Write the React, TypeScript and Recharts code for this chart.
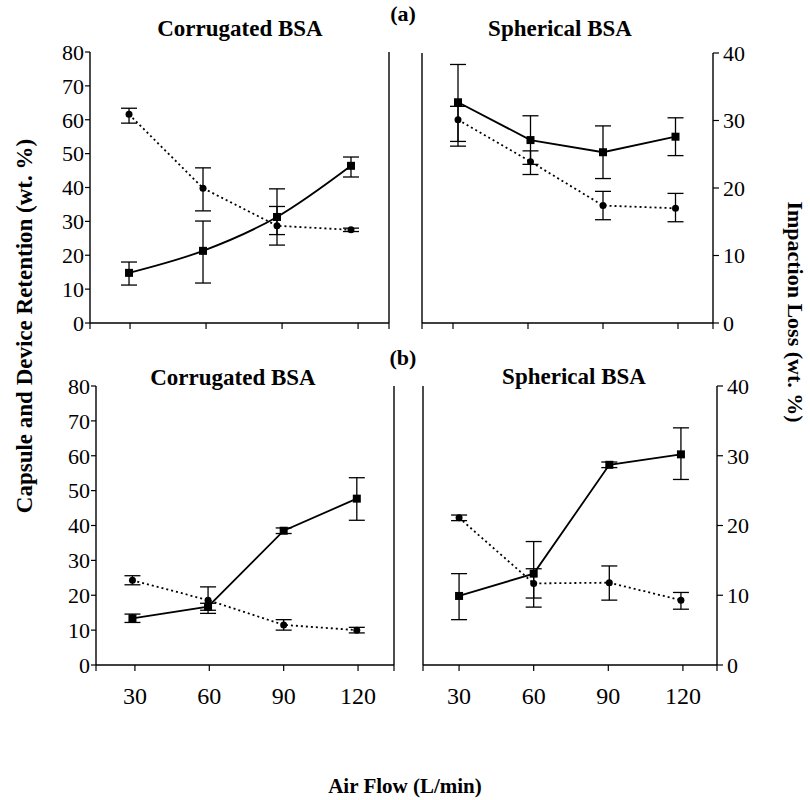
import React from "react";
import { LineChart, Line, XAxis, YAxis, ErrorBar } from "recharts";

// air flow (L/min) tick labels
const FLOW_TICKS = [30, 60, 90, 120];
const RET_TICKS = [0, 10, 20, 30, 40, 50, 60, 70, 80];
const LOSS_TICKS = [0, 10, 20, 30, 40];

// (a) corrugated BSA - read on the 0-80 scale
const A_CORR_X = [29.6, 58.8, 88, 117.2];
const A_CORR_SQ = [14.8, 21.3, 31.3, 46.4];
const A_CORR_SQ_ERR = [[3.6, 3.2], [9.5, 8.8], [5.2, 8.3], [3.3, 2.6]];
const A_CORR_CI = [61.6, 39.8, 28.7, 27.5];
const A_CORR_CI_ERR = [[2.6, 1.8], [6.7, 6.0], [5.7, 5.7], [0.5, 0.5]];

// (a) spherical BSA - read on the 0-40 scale
const A_SPH_X = [32, 61, 90, 119];
const A_SPH_SQ = [32.7, 27.1, 25.3, 27.6];
const A_SPH_SQ_ERR = [[6.5, 5.6], [3.6, 3.6], [3.9, 3.9], [2.8, 2.8]];
const A_SPH_CI = [30.1, 23.9, 17.4, 17.0];
const A_SPH_CI_ERR = [[3.2, 2.0], [1.9, 1.6], [2.1, 2.1], [2.0, 2.2]];

// (b) corrugated BSA - 0-80 scale
const B_CORR_X = [29, 59.5, 90, 119.5];
const B_CORR_SQ = [13.4, 16.7, 38.5, 47.7];
const B_CORR_SQ_ERR = [[1.2, 1.2], [1.0, 1.0], [0.8, 0.8], [6.2, 6.0]];
const B_CORR_CI = [24.3, 18.6, 11.5, 10.0];
const B_CORR_CI_ERR = [[1.3, 1.3], [3.8, 3.8], [1.5, 1.5], [0.8, 0.8]];

// (b) spherical BSA - 0-40 scale
const B_SPH_X = [30, 60, 90.4, 119.2];
const B_SPH_SQ = [9.9, 13.1, 28.7, 30.2];
const B_SPH_SQ_ERR = [[3.4, 3.2], [4.8, 4.6], [0.4, 0.4], [3.6, 3.8]];
const B_SPH_CI = [21.1, 11.7, 11.8, 9.3];
const B_SPH_CI_ERR = [[0.4, 0.4], [2.1, 2.1], [2.5, 2.4], [1.3, 1.1]];

const FONT = "'Liberation Serif', 'Times New Roman', serif";
const INK = "#000";

type Row = { x: number; sq: number; sqErr: number[]; ci: number; ciErr: number[] };

function rows(xs: number[], sq: number[], sqErr: number[][], ci: number[], ciErr: number[][]): Row[] {
  return xs.map((x, i) => ({ x, sq: sq[i], sqErr: sqErr[i], ci: ci[i], ciErr: ciErr[i] }));
}

const SquareDot = (props: any) => {
  const { cx, cy } = props;
  if (cx == null || cy == null) return null;
  return <rect x={cx - 4} y={cy - 4} width={8} height={8} fill={INK} />;
};

interface PanelProps {
  left: number;
  top: number;
  height: number;
  plotTop: number;
  xAxisH: number;
  leftW: number;
  rightW: number;
  xDomain: [number, number];
  data: Row[];
  side: "l" | "r";
  showX: boolean;
  smooth?: boolean;
}

function Panel({ left, top, height, plotTop, xAxisH, leftW, rightW, xDomain, data, side, showX, smooth }: PanelProps) {
  const axisLine = { stroke: INK, strokeWidth: 1.4 };
  const tickLine = { stroke: INK, strokeWidth: 1.2 };
  const yTick = { fontSize: 22, fill: INK, fontFamily: FONT };
  const xTicks = [xDomain[0], ...FLOW_TICKS, xDomain[1]];
  return (
    <div style={{ position: "absolute", left, top }}>
      <LineChart width={405} height={height} data={data} margin={{ top: plotTop, right: 0, bottom: 0, left: 0 }}>
        <XAxis
          dataKey="x"
          type="number"
          domain={xDomain}
          ticks={xTicks}
          interval={0}
          height={xAxisH}
          axisLine={axisLine}
          tickLine={tickLine}
          tickSize={6}
          tickMargin={16}
          tick={{ fontSize: 24, fill: INK, fontFamily: FONT }}
          tickFormatter={(v: number) => (showX && FLOW_TICKS.includes(v) ? String(v) : "")}
        />
        <YAxis
          yAxisId="l"
          orientation="left"
          domain={[0, 80]}
          ticks={RET_TICKS}
          interval={0}
          width={leftW}
          axisLine={axisLine}
          tickLine={tickLine}
          tickSize={5}
          tickMargin={1}
          tick={yTick}
          tickFormatter={(v: number) => (side === "l" ? String(v) : "")}
        />
        <YAxis
          yAxisId="r"
          orientation="right"
          domain={[0, 40]}
          ticks={LOSS_TICKS}
          interval={0}
          width={rightW}
          axisLine={axisLine}
          tickLine={tickLine}
          tickSize={6}
          tickMargin={4}
          tick={yTick}
          tickFormatter={(v: number) => (side === "r" ? String(v) : "")}
        />
        <Line
          yAxisId={side}
          dataKey="ci"
          type="linear"
          stroke={INK}
          strokeWidth={1.8}
          strokeDasharray="2 3"
          dot={{ r: 3.5, fill: INK, stroke: INK, strokeWidth: 0 }}
          isAnimationActive={false}
        >
          <ErrorBar dataKey="ciErr" width={8} stroke={INK} strokeWidth={1.3} direction="y" />
        </Line>
        <Line
          yAxisId={side}
          dataKey="sq"
          type={smooth ? "monotone" : "linear"}
          stroke={INK}
          strokeWidth={1.8}
          dot={<SquareDot />}
          isAnimationActive={false}
        >
          <ErrorBar dataKey="sqErr" width={8} stroke={INK} strokeWidth={1.3} direction="y" />
        </Line>
      </LineChart>
    </div>
  );
}

export default function App() {
  const bold = { fontFamily: FONT, fontWeight: 700, fill: INK } as const;
  return (
    <div style={{ position: "absolute", left: 0, top: 0, width: 810, height: 800, background: "#fff" }}>
      <Panel
        left={0}
        top={0}
        height={345}
        plotTop={52}
        xAxisH={22}
        leftW={90}
        rightW={16}
        xDomain={[14.2, 132.2]}
        data={rows(A_CORR_X, A_CORR_SQ, A_CORR_SQ_ERR, A_CORR_CI, A_CORR_CI_ERR)}
        side="l"
        showX={false}
        smooth
      />
      <Panel
        left={405}
        top={0}
        height={345}
        plotTop={53}
        xAxisH={22}
        leftW={17}
        rightW={97}
        xDomain={[17.6, 134]}
        data={rows(A_SPH_X, A_SPH_SQ, A_SPH_SQ_ERR, A_SPH_CI, A_SPH_CI_ERR)}
        side="r"
        showX={false}
      />
      <Panel
        left={0}
        top={345}
        height={455}
        plotTop={41}
        xAxisH={135}
        leftW={96}
        rightW={11}
        xDomain={[14.3, 134.5]}
        data={rows(B_CORR_X, B_CORR_SQ, B_CORR_SQ_ERR, B_CORR_CI, B_CORR_CI_ERR)}
        side="l"
        showX
      />
      <Panel
        left={405}
        top={345}
        height={455}
        plotTop={41}
        xAxisH={135}
        leftW={18}
        rightW={93}
        xDomain={[15.5, 133.7]}
        data={rows(B_SPH_X, B_SPH_SQ, B_SPH_SQ_ERR, B_SPH_CI, B_SPH_CI_ERR)}
        side="r"
        showX
      />
      <svg width={810} height={800} style={{ position: "absolute", left: 0, top: 0, pointerEvents: "none" }}>
        <text x={240} y={36} textAnchor="middle" fontSize={23} {...bold}>Corrugated BSA</text>
        <text x={403} y={21} textAnchor="middle" fontSize={22} {...bold}>(a)</text>
        <text x={560} y={36} textAnchor="middle" fontSize={23} {...bold}>Spherical BSA</text>
        <text x={233} y={385} textAnchor="middle" fontSize={23} {...bold}>Corrugated BSA</text>
        <text x={403} y={365} textAnchor="middle" fontSize={22} {...bold}>(b)</text>
        <text x={574} y={384} textAnchor="middle" fontSize={23} {...bold}>Spherical BSA</text>
        <text x={405} y={793} textAnchor="middle" fontSize={21} {...bold}>Air Flow (L/min)</text>
        <text x={32} y={326} textAnchor="middle" fontSize={23} transform="rotate(-90 32 326)" {...bold}>
          Capsule and Device Retention (wt. %)
        </text>
        <text x={788} y={312} textAnchor="middle" fontSize={22} transform="rotate(90 788 312)" {...bold}>
          Impaction Loss (wt. %)
        </text>
      </svg>
    </div>
  );
}
